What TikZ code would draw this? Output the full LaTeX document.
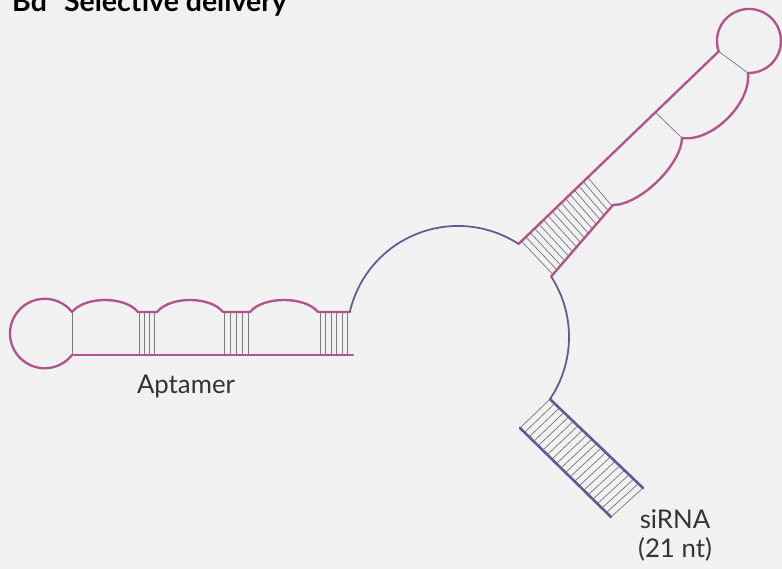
\documentclass[tikz,border=0pt]{standalone}
\usepackage{fontspec}
\setmainfont{Lato}
\usetikzlibrary{calc}

\definecolor{paper}{RGB}{241,241,241}
\definecolor{rnapink}{RGB}{178,84,138}
\definecolor{rnablue}{RGB}{92,92,148}
\definecolor{pairgray}{RGB}{125,125,125}

\begin{document}
\begin{tikzpicture}[
        x=0.03cm, y=-0.03cm,
        strand/.style={draw=rnapink, line width=2pt, line cap=round, line join=round},
        hubline/.style={draw=rnablue, line width=1.5pt, line cap=round},
        sistrand/.style={draw=rnablue, line width=2.2pt, line cap=round},
        basepair/.style={draw=pairgray, line width=0.65pt},
        rnatext/.style={font=\fontsize{22}{25.5}\selectfont, text=black!80, inner sep=0pt}
    ]

    \fill[paper, use as bounding box] (0,0) rectangle (782,569);
    \clip (0,0) rectangle (782,569);

    % Nodes
    \node[anchor=base west, inner sep=0pt, font=\fontsize{24.3}{26}\selectfont\bfseries] (title) at (12,12) {Bd\hspace{0.6em}Selective delivery};

    \coordinate (aptLoopTop) at (72,312);
    \coordinate (aptLoopBot) at (72,355);
    \coordinate (aptTail) at (353,355);
    \coordinate (aptEnd) at (349.8,312);

    \coordinate (armIn) at (518.5,244);
    \coordinate (armOut) at (551.1,276.5);
    \coordinate (capTop) at (718.7,51.4);
    \coordinate (capBot) at (747.9,73);
    \coordinate (stemA) at (521.4,241.2);
    \coordinate (stemB) at (587.7,177.4);
    \coordinate (stemC) at (553,274.5);
    \coordinate (stemD) at (612,206);

    \coordinate (siTop) at (550,399.1);
    \coordinate (siTopEnd) at (643,488);
    \coordinate (siBot) at (520,428);
    \coordinate (siBotEnd) at (611,517);

    \node[rnatext, anchor=base] (aptLabel) at (186,393) {Aptamer};
    \node[rnatext, anchor=north, align=center] (siLabel) at (675,509) {siRNA\\(21 nt)};

    % Base pairs
    \draw[basepair] (aptLoopTop) -- (aptLoopBot);
    \foreach \x in {139,144,149,154, 224,230,236,242,248, 320,325.5,331,336.5,342,347.5}
        \draw[basepair] (\x,312) -- (\x,355);
    \foreach \i in {0,...,15}
        \draw[basepair] ($(stemA)!\i/15!(stemB)$) -- ($(stemC)!\i/15!(stemD)$);
    \draw[basepair] (655.4,112.3) -- (682,138);
    \draw[basepair] (capTop) -- (capBot);
    \foreach \i in {0,...,20}
        \draw[basepair] ($(siTop)!\i/20!(siTopEnd)$) -- ($(siBot)!\i/20!(siBotEnd)$);

    % Strands
    \draw[strand] (aptLoopBot) arc[start angle=38.25, end angle=321.75, radius=34.73];
    \draw[strand] (aptLoopTop) .. controls (85,296) and (125,296) .. (138,312) -- (157,312)
        .. controls (170,296) and (210,296) .. (223,312) -- (250,312)
        .. controls (263,296) and (305,296) .. (318,312) -- (aptEnd);
    \draw[strand] (aptLoopBot) -- (aptTail);

    \draw[hubline] (aptEnd) arc[start angle=193, end angle=303, radius=111];
    \draw[hubline] (armOut) arc[start angle=327, end angle=394, radius=111];

    \draw[strand] (armIn) -- (capTop);
    \draw[strand] (capTop) arc[start angle=161, end angle=452, radius=32];
    \draw[strand] (armOut) -- (613,205) .. controls (639.8,205) and (681.2,164.8) .. (682,138)
        .. controls (711.9,142.3) and (751.4,103.3) .. (capBot);

    \draw[sistrand] (siTop) -- (siTopEnd);
    \draw[sistrand] (siBot) -- (siBotEnd);

\end{tikzpicture}
\end{document}
